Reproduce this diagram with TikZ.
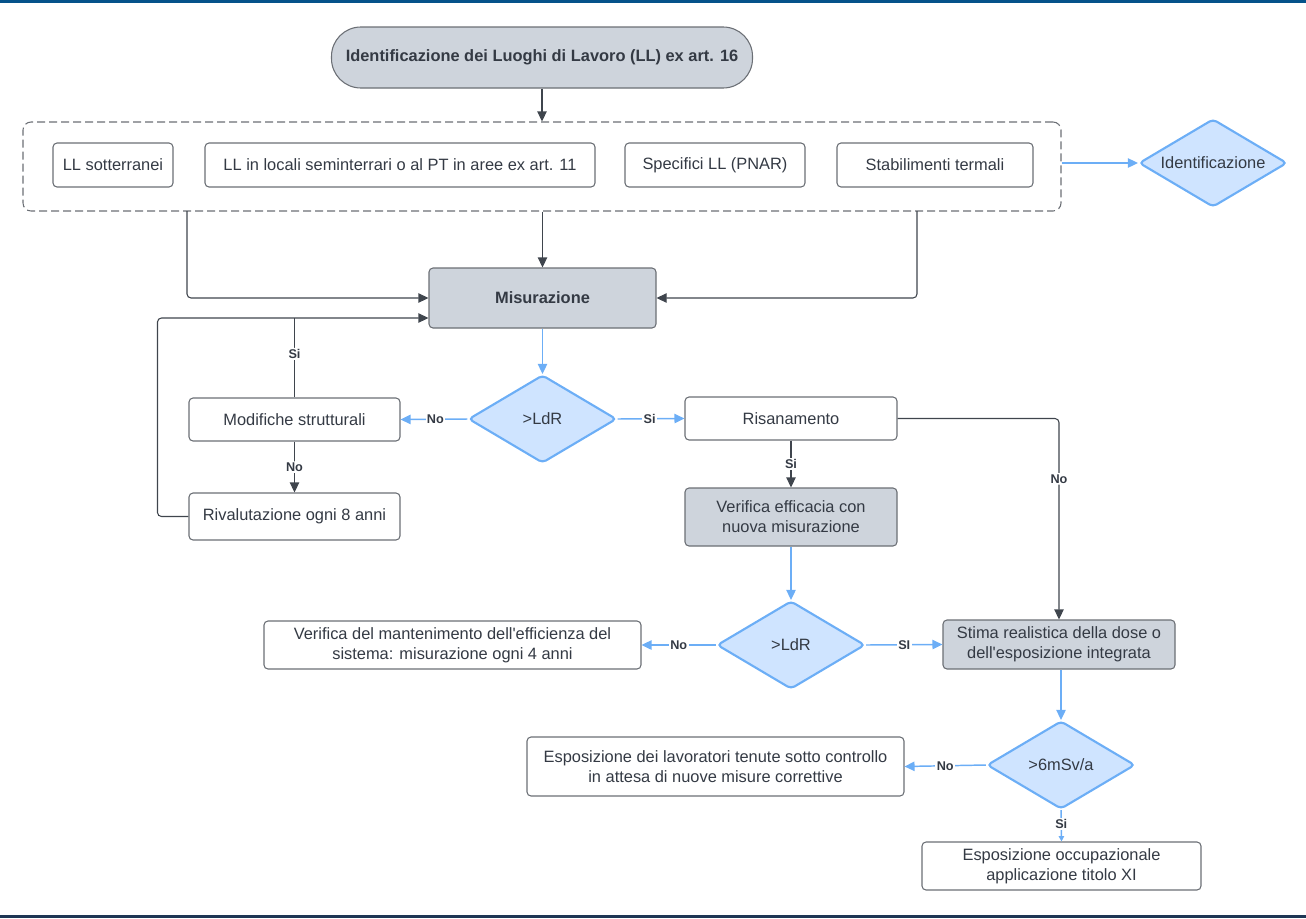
\documentclass[tikz,border=0pt]{standalone}
\usepackage{fontspec}
\setmainfont{Liberation Sans}[Ligatures=TeXOff]
\usetikzlibrary{shapes.geometric,arrows.meta,calc}
\definecolor{gfill}{HTML}{CED4DC}
\definecolor{bdr}{HTML}{6B6F75}
\definecolor{txt}{HTML}{343A44}
\definecolor{bline}{HTML}{6CAEF6}
\definecolor{dfill}{HTML}{CFE4FF}
\definecolor{dline}{HTML}{3F454D}
\definecolor{topbar}{HTML}{05528A}
\definecolor{botbar}{HTML}{1E3654}
\tikzset{
  box/.style={draw=bdr,line width=0.8pt,rounded corners=3pt,fill=white,text=txt,
    font=\fontsize{12.3}{15}\selectfont,align=center,inner sep=0pt},
  gbox/.style={box,fill=gfill},
  dia/.style={diamond,draw=bline,line width=1.6pt,fill=dfill,text=txt,aspect=1.68,
    rounded corners=3pt,inner sep=0pt,minimum width=111pt,minimum height=66pt,
    font=\fontsize{12.3}{15}\selectfont},
  arr/.style={draw=dline,line width=0.8pt,-{Triangle[length=7.5pt,width=7pt]},rounded corners=3pt},
  barr/.style={draw=bline,line width=1.1pt,-{Triangle[length=7.5pt,width=7pt]}},
  plain/.style={draw=dline,line width=0.8pt,rounded corners=3pt},
  lbl/.style={fill=white,text=txt,font=\bfseries\fontsize{9.5}{11}\selectfont,inner sep=1pt},
}
\begin{document}
\begin{tikzpicture}[x=0.75pt,y=-0.75pt]
\useasboundingbox (0,0) rectangle (1306,918);
\fill[topbar] (0,0) rectangle (1306,3);
\fill[botbar] (0,915) rectangle (1306,918);

\node[gbox,rounded corners=22pt,minimum width=315.75pt,minimum height=45.75pt,font=\bfseries\fontsize{12.3}{15}\selectfont] (title) at (542,57.5) {Identificazione dei Luoghi di Lavoro (LL) ex art. 16};

\node[draw=bdr,dashed,dash pattern=on 6pt off 3pt,line width=0.8pt,rounded corners=6pt,minimum width=778.5pt,minimum height=66.75pt,inner sep=0pt] (cont) at (542,166.5) {};
\node[box,minimum width=90pt,minimum height=33pt] (b1) at (113,165) {LL sotterranei};
\node[box,minimum width=292.5pt,minimum height=33pt] (b2) at (400,165) {LL in locali seminterrari o al PT in aree ex art. 11};
\node[box,minimum width=135pt,minimum height=33pt] (b3) at (715,165) {Specifici LL (PNAR)};
\node[box,minimum width=147pt,minimum height=33pt] (b4) at (935,165) {Stabilimenti termali};
\node[dia] (ident) at (1213,163) {Identificazione};

\node[gbox,minimum width=170.25pt,minimum height=45pt,font=\bfseries\fontsize{12.3}{15}\selectfont] (mis) at (542.5,298) {Misurazione};
\node[dia] (d1) at (542.5,419) {>LdR};
\node[box,minimum width=158.25pt,minimum height=32.25pt] (mod) at (294.5,419.5) {Modifiche strutturali};
\node[box,minimum width=159pt,minimum height=32.25pt] (ris) at (791,418.5) {Risanamento};
\node[box,minimum width=158.25pt,minimum height=35.25pt] (riv) at (294.5,516.5) {Rivalutazione ogni 8 anni};
\node[gbox,minimum width=159pt,minimum height=43.5pt] (ver) at (791,517) {Verifica efficacia con\\nuova misurazione};
\node[dia] (d2) at (791,645) {>LdR};
\node[box,minimum width=282.75pt,minimum height=36pt] (man) at (452.5,645) {Verifica del mantenimento dell'efficienza del\\sistema: misurazione ogni 4 anni};
\node[gbox,minimum width=174pt,minimum height=36.75pt] (stima) at (1059,644.5) {Stima realistica della dose o\\dell'esposizione integrata};
\node[dia] (d3) at (1061,765) {>6mSv/a};
\node[box,minimum width=282.75pt,minimum height=44.25pt] (esp) at (715.5,766.5) {Esposizione dei lavoratori tenute sotto controllo\\in attesa di nuove misure correttive};
\node[box,minimum width=209.25pt,minimum height=36pt] (occ) at (1061.5,866) {Esposizione occupazionale\\applicazione titolo XI};

% connectors
\draw[arr] (title.south) -- (title.south |- cont.north);
\draw[barr] (cont.east |- ident) -- (ident.west);
\draw[arr] (cont.south -| mis) -- (mis.north);
\coordinate (c1) at (187,211);
\coordinate (c2) at (917,211);
\draw[arr] (c1) |- (mis.west);
\draw[arr] (c2) |- (mis.east);
\coordinate (m2) at ($(mis.west)+(0,-15pt)$);
\draw[arr] (riv.west) -- ++(-31,0) |- (m2);
\draw[plain] (mod.north) -- node[lbl,pos=0.55]{Si} (mod.north |- m2);
\draw[barr] (mis.south) -- (d1.north);
\draw[barr] (d1.west) -- node[lbl,pos=0.48]{No} (mod.east);
\draw[barr] (d1.east) -- node[lbl,pos=0.48]{Si} (ris.west);
\draw[arr] (mod.south) -- node[lbl]{No} (riv.north);
\draw[arr] (ris.south) -- node[lbl]{Si} (ver.north);
\draw[arr] (ris.east) -| node[lbl,pos=0.65]{No} (stima.north);
\draw[barr] (ver.south) -- (d2.north);
\draw[barr] (d2.west) -- node[lbl]{No} (man.east);
\draw[barr] (d2.east) -- node[lbl]{SI} (stima.west);
\draw[barr] (stima.south -| d3) -- (d3.north);
\draw[barr] (d3.west) -- node[lbl]{No} (esp.east);
\draw[barr,-{Triangle[length=4pt,width=4pt]}] (d3.south) -- node[lbl,pos=0.45]{Si} (occ.north);
\end{tikzpicture}
\end{document}
